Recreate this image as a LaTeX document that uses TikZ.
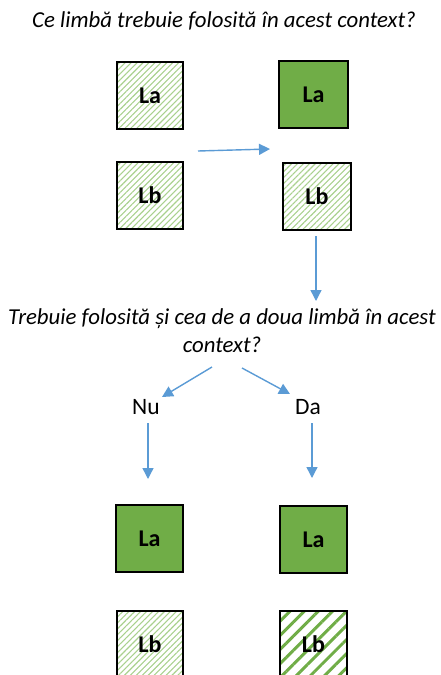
\documentclass[tikz,border=0pt]{standalone}
\usepackage{fontspec}
\setmainfont{Carlito}
\usetikzlibrary{arrows.meta,patterns.meta}
\definecolor{leaf}{HTML}{70AD47}
\definecolor{leaflight}{HTML}{A9D18E}
\definecolor{flow}{HTML}{5B9BD5}
\tikzset{
  langbox/.style={draw=black, line width=2pt, minimum width=66pt, minimum height=67pt,
    inner sep=0pt, font=\fontsize{24}{28}\selectfont\bfseries},
  solidbox/.style={langbox, fill=leaf},
  finehatch/.style={langbox, pattern={Lines[angle=45,distance=4.2pt,line width=1.1pt]}, pattern color=leaflight},
  widehatch/.style={langbox, pattern={Lines[angle=45,distance=10pt,line width=3pt]}, pattern color=leaf},
  question/.style={font=\fontsize{22.8}{28}\selectfont\itshape, align=center, inner sep=0pt},
  answer/.style={font=\fontsize{23.5}{26}\selectfont, inner sep=0pt},
  flowarrow/.style={draw=flow, line width=1.4pt, -{Triangle[length=11pt,width=11pt]}}
}
\begin{document}
\begin{tikzpicture}[x=1pt,y=-1pt]
  \useasboundingbox (0,0) rectangle (441,675);
  \begin{scope}
  \clip (0,0) rectangle (441,675);
  % first question and the starting pair of languages
  \node[question] (q1) at (224,21) {Ce limbă trebuie folosită în acest context?};
  \node[finehatch] (a1) at (150,95.5) {La};
  \node[finehatch] (b1) at (150,195) {Lb};
  \node[solidbox, minimum width=69pt] (a2) at (313.5,94.5) {La};
  \node[finehatch, minimum width=68pt] (b2) at (317,196.5) {Lb};
  \coordinate (h0) at (198,151);
  \coordinate (h1) at (270,149);
  \draw[flowarrow] (h0) -- (h1);

  % second question
  \node[question] (q2) at (222,331) {Trebuie folosită și cea de a doua limbă în acest\\context?};
  \coordinate (v0) at (316,236);
  \coordinate (v1) at (316,301);
  \draw[flowarrow] (v0) -- (v1);

  % answers
  \node[answer] (nu) at (146,407) {Nu};
  \node[answer] (da) at (308,407) {Da};
  \coordinate (s0) at (212,367);
  \coordinate (s1) at (242,368);
  \coordinate (nuT) at (162,397);
  \coordinate (daT) at (290,394);
  \draw[flowarrow] (s0) -- (nuT);
  \draw[flowarrow] (s1) -- (daT);
  \coordinate (n0) at (148,423);
  \coordinate (n1) at (148,479);
  \coordinate (d0) at (312,423);
  \coordinate (d1) at (312,478);
  \draw[flowarrow] (n0) -- (n1);
  \draw[flowarrow] (d0) -- (d1);

  % resulting pairs
  \node[solidbox, minimum width=67pt] (a3) at (149.5,538.5) {La};
  \node[solidbox, minimum width=67pt] (a4) at (313.5,539.5) {La};
  \node[finehatch] (b3) at (150,644.5) {Lb};
  \node[widehatch, minimum width=67pt] (b4) at (313.5,644.5) {Lb};
  \end{scope}
\end{tikzpicture}
\end{document}
